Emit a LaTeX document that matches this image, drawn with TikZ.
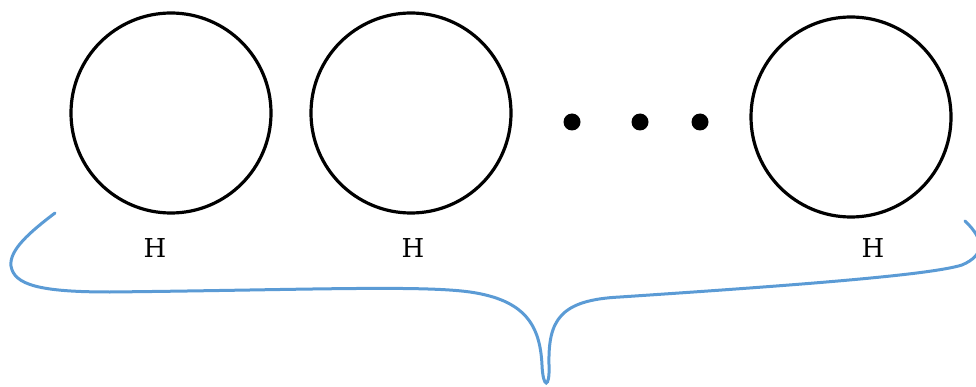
\documentclass[tikz,border=0pt]{standalone}
\usepackage{fontspec}
\setmainfont{DejaVu Serif}
\usepackage{tikz}
\usetikzlibrary{positioning}
\definecolor{braceblue}{HTML}{5B9BD5}
\tikzset{
  hcircle/.style={draw,line width=3.2pt,circle,minimum size=200pt,inner sep=0pt},
  hdot/.style={fill,circle,minimum size=17pt,inner sep=0pt},
  hlabel/.style={font=\fontsize{26}{30}\selectfont},
  brace/.style={draw=braceblue,line width=3pt,line cap=round}
}
\begin{document}
\begin{tikzpicture}[x=1pt,y=-1pt]
\useasboundingbox (0,0) rectangle (976,387);
\clip (0,0) rectangle (976,387);
\node[hcircle] (c1) at (171,113) {};
\node[hcircle] (c2) at (411,113) {};
\node[hcircle] (c3) at (851,117) {};
\node[hdot] (d1) at (572,122) {};
\node[hdot] (d2) at (640,122) {};
\node[hdot] (d3) at (700,122) {};
\node[hlabel] (h1) at (155,248) {H};
\node[hlabel] (h2) at (413,248) {H};
\node[hlabel] (h3) at (873,248) {H};
% the brace under the row
\coordinate (bl) at (55,213);
\coordinate (br) at (965,221);
\draw[brace] (bl) .. controls (30,232) and (9,250) .. (11,266)
  .. controls (14,285) and (40,292) .. (110,292)
  .. controls (300,290) and (420,285) .. (470,292)
  .. controls (525,300) and (540,325) .. (542,365)
  .. controls (543,389) and (550,389) .. (549,365)
  .. controls (548,320) and (560,300) .. (620,297)
  .. controls (800,285) and (930,275) .. (962,265)
  .. controls (985,255) and (985,240) .. (br);
\end{tikzpicture}
\end{document}
